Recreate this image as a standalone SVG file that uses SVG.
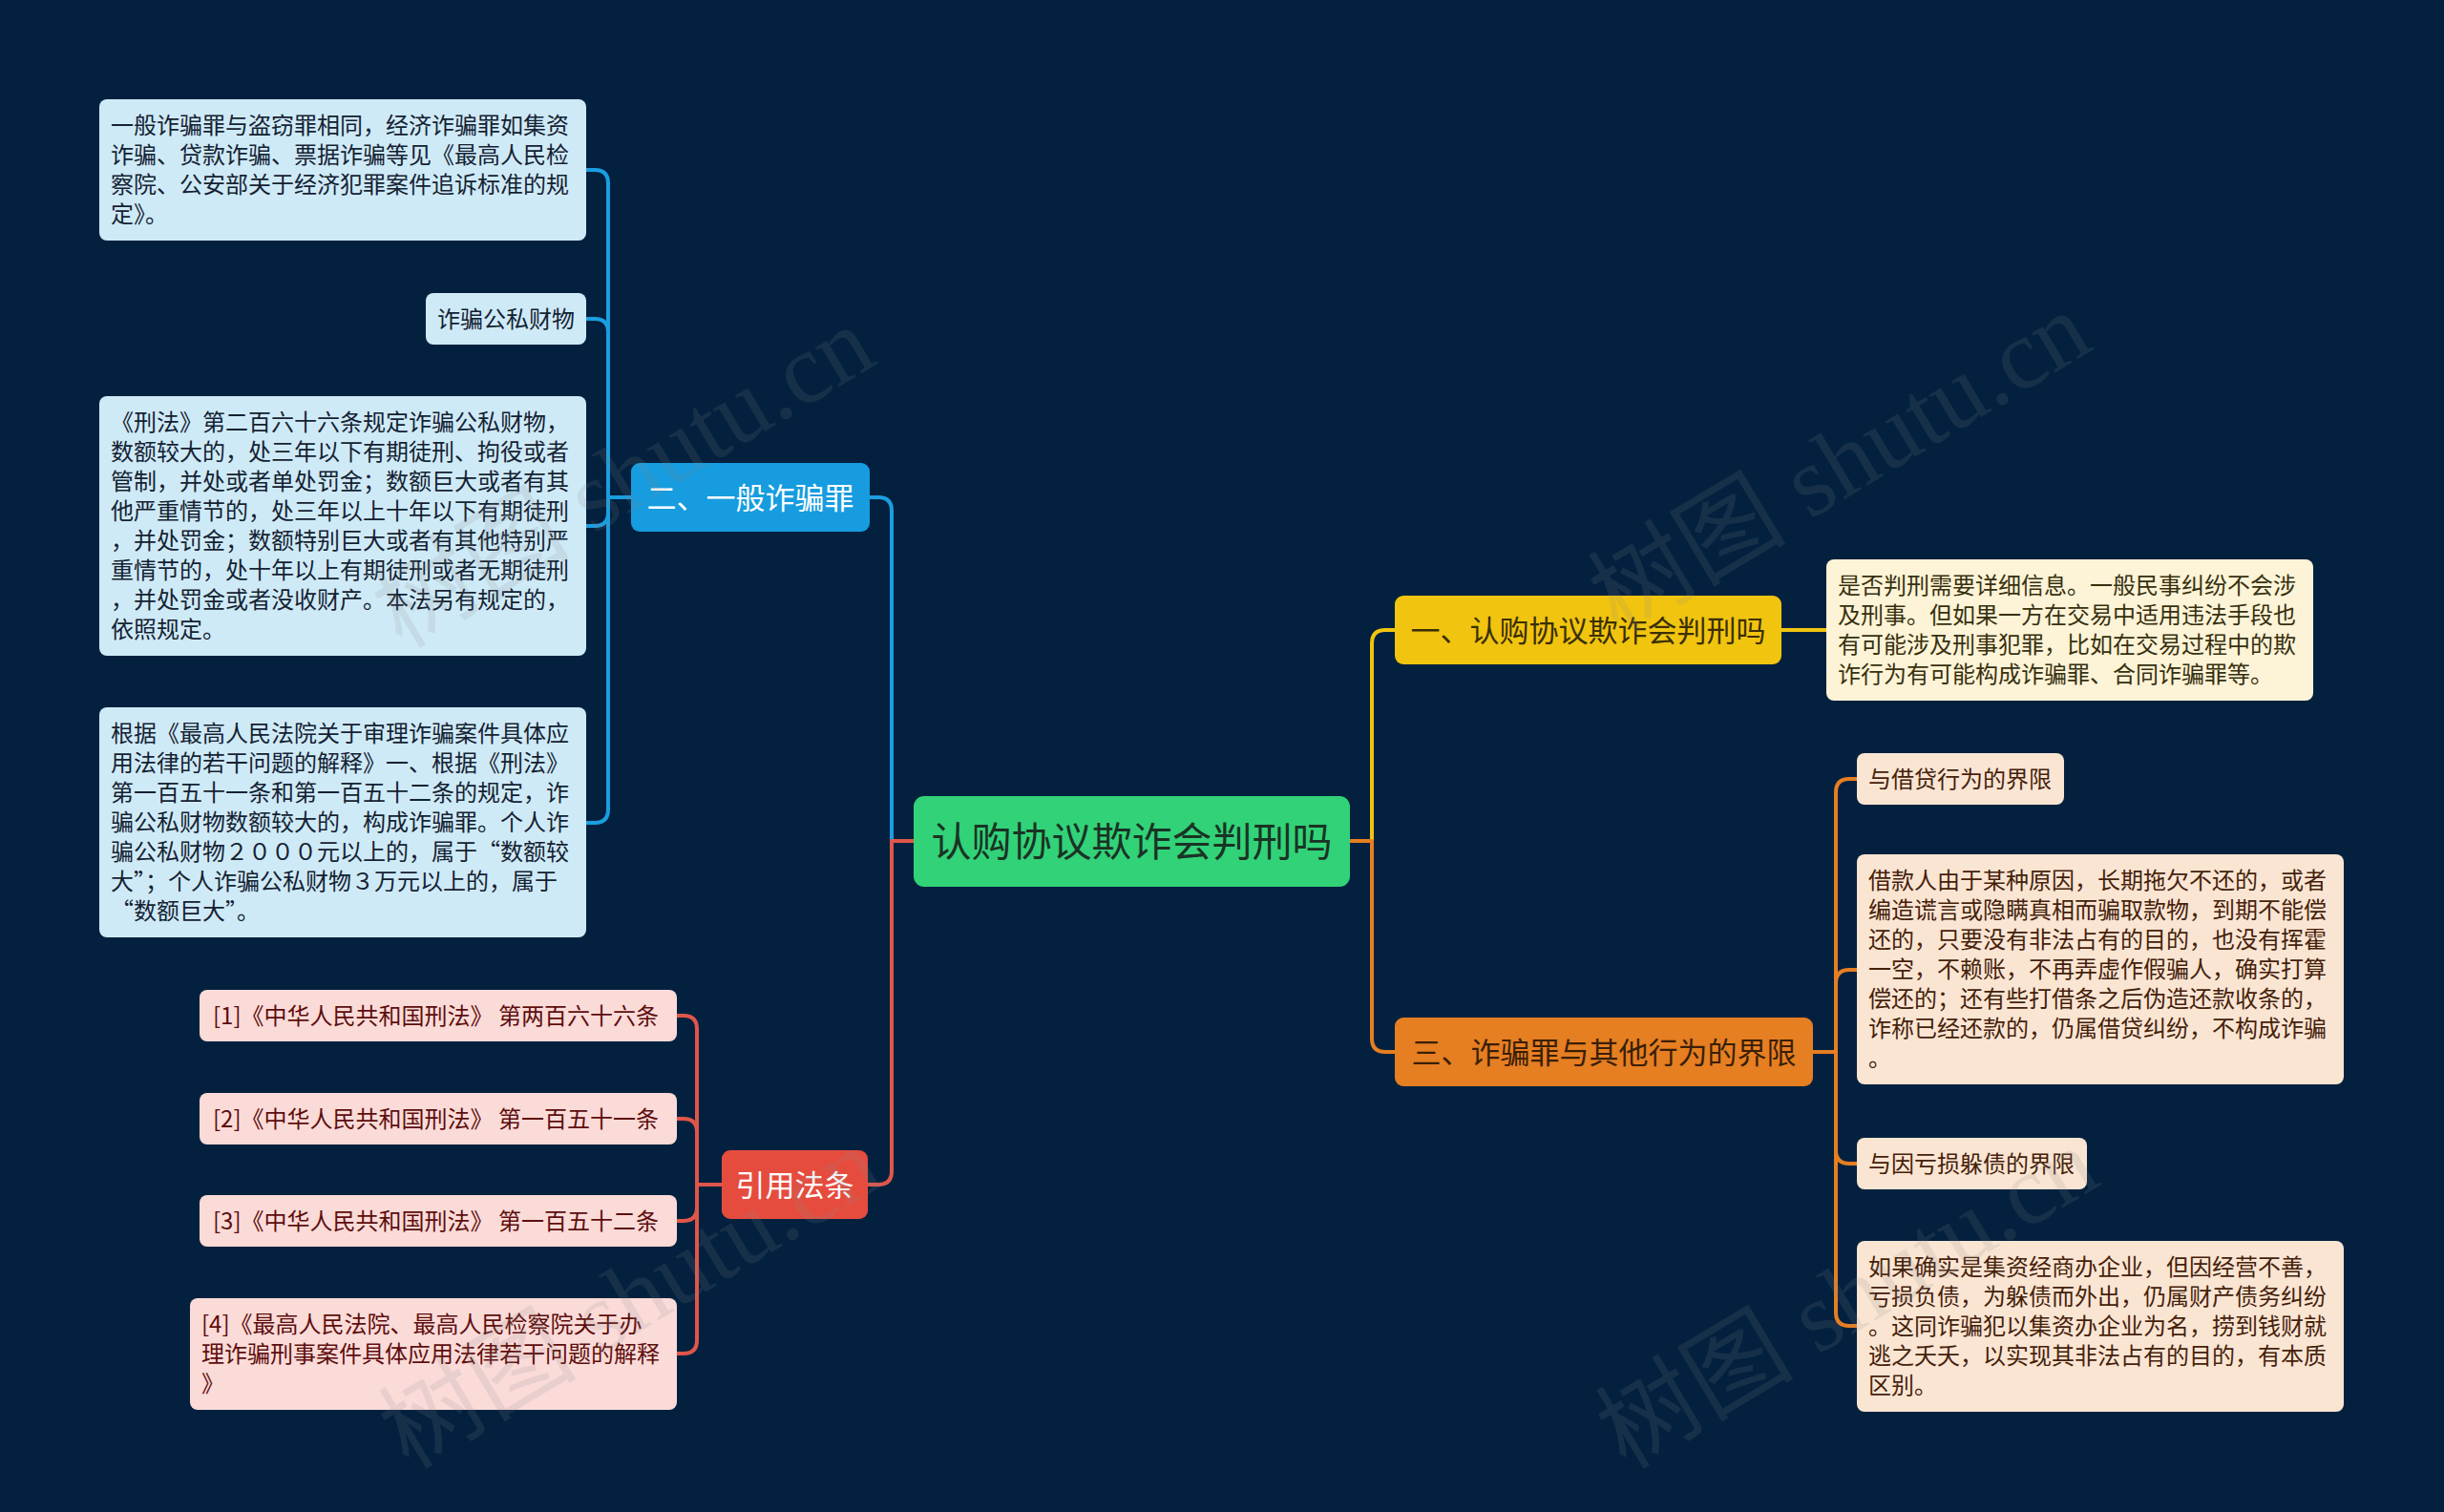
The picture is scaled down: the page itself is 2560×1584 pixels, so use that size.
<svg xmlns="http://www.w3.org/2000/svg" width="2560" height="1584" viewBox="0 0 2560 1584">
<style>
.bg{fill:#03213F}
.t{font-family:"Noto Sans CJK SC","Liberation Sans",sans-serif}
.leaf{font-size:24px}
.par{font-size:31px}
.ln{fill:none;stroke-width:4;stroke-linecap:round;stroke-linejoin:round}
.cb{stroke:#1A9EE0}.cr{stroke:#E0564A}.cy{stroke:#F1C40F}.co{stroke:#E67E22}
.fb{fill:#CFEAF7}.fr{fill:#FADBD8}.fy{fill:#FDF3D6}.fo{fill:#FAE5D3}
.tb{fill:#142232}.tr{fill:#5E0D0D}.ty{fill:#36300F}.to{fill:#45210A}
.wm{font-family:"Liberation Serif","Noto Sans CJK SC",serif;font-size:104px;fill:#8A8A8A;opacity:0.15}
</style>
<rect class="bg" x="0" y="0" width="2560" height="1584"/>

<g id="connectors">
<path class="ln cb" d="M957 881 H934 V535 Q934 521 920 521 H911"/>
<path class="ln cr" d="M957 881 H934 V1227 Q934 1241 920 1241 H909"/>
<path class="ln cy" d="M1414 881 H1437 V674 Q1437 660 1451 660 H1461"/>
<path class="ln co" d="M1414 881 H1437 V1088 Q1437 1102 1451 1102 H1461"/>
<path class="ln cb" d="M661 521 H637 V192 Q637 178 623 178 H614"/>
<path class="ln cb" d="M661 521 H637 V348 Q637 334 623 334 H614"/>
<path class="ln cb" d="M661 521 H637 V537 Q637 551 623 551 H614"/>
<path class="ln cb" d="M661 521 H637 V848 Q637 862 623 862 H614"/>
<path class="ln cr" d="M756 1241 H730 V1078 Q730 1064 716 1064 H709"/>
<path class="ln cr" d="M756 1241 H730 V1186 Q730 1172 716 1172 H709"/>
<path class="ln cr" d="M756 1241 H730 V1265 Q730 1279 716 1279 H709"/>
<path class="ln cr" d="M756 1241 H730 V1404 Q730 1418 716 1418 H709"/>
<path class="ln cy" d="M1866 660 H1913"/>
<path class="ln co" d="M1899 1102 H1923 V830 Q1923 816 1937 816 H1945"/>
<path class="ln co" d="M1899 1102 H1923 V1030 Q1923 1016 1937 1016 H1945"/>
<path class="ln co" d="M1899 1102 H1923 V1205 Q1923 1219 1937 1219 H1945"/>
<path class="ln co" d="M1899 1102 H1923 V1375 Q1923 1389 1937 1389 H1945"/>
</g>

<g id="root">
<rect x="957" y="834" width="457" height="95" rx="11" fill="#32D278"/>
<text class="t" x="1185.5" y="897" font-size="42" text-anchor="middle" fill="#1A3324">认购协议欺诈会判刑吗</text>
</g>

<g id="n-general">
<rect x="661" y="485" width="250" height="72" rx="9" fill="#169CDF"/>
<text class="t par" x="786" y="533" text-anchor="middle" fill="#FFFFFF">二、一般诈骗罪</text>
</g>
<g id="n-law">
<rect x="756" y="1205" width="153" height="72" rx="9" fill="#E64C3E"/>
<text class="t par" x="832.5" y="1253" text-anchor="middle" fill="#FFFFFF">引用法条</text>
</g>
<g id="n-q1">
<rect x="1461" y="624" width="405" height="72" rx="9" fill="#F1C40F"/>
<text class="t par" x="1663.5" y="672" text-anchor="middle" fill="#3B2F05">一、认购协议欺诈会判刑吗</text>
</g>
<g id="n-q3">
<rect x="1461" y="1066" width="438" height="72" rx="9" fill="#E67E22"/>
<text class="t par" x="1680" y="1114" text-anchor="middle" fill="#3A1F08">三、诈骗罪与其他行为的界限</text>
</g>

<g id="b1">
<rect class="fb" x="104" y="104" width="510" height="148" rx="8"/>
<text class="t leaf tb" x="116" y="140"><tspan x="116">一般诈骗罪与盗窃罪相同，经济诈骗罪如集资</tspan><tspan x="116" dy="31">诈骗、贷款诈骗、票据诈骗等见《最高人民检</tspan><tspan x="116" dy="31">察院、公安部关于经济犯罪案件追诉标准的规</tspan><tspan x="116" dy="31">定》。</tspan></text>
</g>
<g id="b2">
<rect class="fb" x="446" y="307" width="168" height="54" rx="8"/>
<text class="t leaf tb" x="458" y="343">诈骗公私财物</text>
</g>
<g id="b3">
<rect class="fb" x="104" y="415" width="510" height="272" rx="8"/>
<text class="t leaf tb" x="116" y="451"><tspan x="116">《刑法》第二百六十六条规定诈骗公私财物，</tspan><tspan x="116" dy="31">数额较大的，处三年以下有期徒刑、拘役或者</tspan><tspan x="116" dy="31">管制，并处或者单处罚金；数额巨大或者有其</tspan><tspan x="116" dy="31">他严重情节的，处三年以上十年以下有期徒刑</tspan><tspan x="116" dy="31">，并处罚金；数额特别巨大或者有其他特别严</tspan><tspan x="116" dy="31">重情节的，处十年以上有期徒刑或者无期徒刑</tspan><tspan x="116" dy="31">，并处罚金或者没收财产。本法另有规定的，</tspan><tspan x="116" dy="31">依照规定。</tspan></text>
</g>
<g id="b4">
<rect class="fb" x="104" y="741" width="510" height="241" rx="8"/>
<text class="t leaf tb" x="116" y="777"><tspan x="116">根据《最高人民法院关于审理诈骗案件具体应</tspan><tspan x="116" dy="31">用法律的若干问题的解释》一、根据《刑法》</tspan><tspan x="116" dy="31">第一百五十一条和第一百五十二条的规定，诈</tspan><tspan x="116" dy="31">骗公私财物数额较大的，构成诈骗罪。个人诈</tspan><tspan x="116" dy="31">骗公私财物２０００元以上的，属于“数额较</tspan><tspan x="116" dy="31">大”；个人诈骗公私财物３万元以上的，属于</tspan><tspan x="116" dy="31">“数额巨大”。</tspan></text>
</g>

<g id="r1">
<rect class="fr" x="209" y="1037" width="500" height="54" rx="8"/>
<text class="t leaf tr" x="223" y="1073">[1]《中华人民共和国刑法》 第两百六十六条</text>
</g>
<g id="r2">
<rect class="fr" x="209" y="1145" width="500" height="54" rx="8"/>
<text class="t leaf tr" x="223" y="1181">[2]《中华人民共和国刑法》 第一百五十一条</text>
</g>
<g id="r3">
<rect class="fr" x="209" y="1252" width="500" height="54" rx="8"/>
<text class="t leaf tr" x="223" y="1288">[3]《中华人民共和国刑法》 第一百五十二条</text>
</g>
<g id="r4">
<rect class="fr" x="199" y="1360" width="510" height="117" rx="8"/>
<text class="t leaf tr" x="211" y="1396"><tspan x="211">[4]《最高人民法院、最高人民检察院关于办</tspan><tspan x="211" dy="31">理诈骗刑事案件具体应用法律若干问题的解释</tspan><tspan x="211" dy="31">》</tspan></text>
</g>

<g id="y1">
<rect class="fy" x="1913" y="586" width="510" height="148" rx="8"/>
<text class="t leaf ty" x="1925" y="622"><tspan x="1925">是否判刑需要详细信息。一般民事纠纷不会涉</tspan><tspan x="1925" dy="31">及刑事。但如果一方在交易中适用违法手段也</tspan><tspan x="1925" dy="31">有可能涉及刑事犯罪，比如在交易过程中的欺</tspan><tspan x="1925" dy="31">诈行为有可能构成诈骗罪、合同诈骗罪等。</tspan></text>
</g>

<g id="o1">
<rect class="fo" x="1945" y="789" width="217" height="54" rx="8"/>
<text class="t leaf to" x="1957" y="825">与借贷行为的界限</text>
</g>
<g id="o2">
<rect class="fo" x="1945" y="895" width="510" height="241" rx="8"/>
<text class="t leaf to" x="1957" y="931"><tspan x="1957">借款人由于某种原因，长期拖欠不还的，或者</tspan><tspan x="1957" dy="31">编造谎言或隐瞒真相而骗取款物，到期不能偿</tspan><tspan x="1957" dy="31">还的，只要没有非法占有的目的，也没有挥霍</tspan><tspan x="1957" dy="31">一空，不赖账，不再弄虚作假骗人，确实打算</tspan><tspan x="1957" dy="31">偿还的；还有些打借条之后伪造还款收条的，</tspan><tspan x="1957" dy="31">诈称已经还款的，仍属借贷纠纷，不构成诈骗</tspan><tspan x="1957" dy="31">。</tspan></text>
</g>
<g id="o3">
<rect class="fo" x="1945" y="1192" width="241" height="54" rx="8"/>
<text class="t leaf to" x="1957" y="1228">与因亏损躲债的界限</text>
</g>
<g id="o4">
<rect class="fo" x="1945" y="1300" width="510" height="179" rx="8"/>
<text class="t leaf to" x="1957" y="1336"><tspan x="1957">如果确实是集资经商办企业，但因经营不善，</tspan><tspan x="1957" dy="31">亏损负债，为躲债而外出，仍属财产债务纠纷</tspan><tspan x="1957" dy="31">。这同诈骗犯以集资办企业为名，捞到钱财就</tspan><tspan x="1957" dy="31">逃之夭夭，以实现其非法占有的目的，有本质</tspan><tspan x="1957" dy="31">区别。</tspan></text>
</g>

<g id="watermarks">
<text class="wm" transform="translate(653 500) rotate(-31)" text-anchor="middle" y="35">树图 shutu.cn</text>
<text class="wm" transform="translate(1927 485) rotate(-31)" text-anchor="middle" y="35">树图 shutu.cn</text>
<text class="wm" transform="translate(660 1360) rotate(-31)" text-anchor="middle" y="35">树图 shutu.cn</text>
<text class="wm" transform="translate(1935 1360) rotate(-31)" text-anchor="middle" y="35">树图 shutu.cn</text>
</g>
</svg>
